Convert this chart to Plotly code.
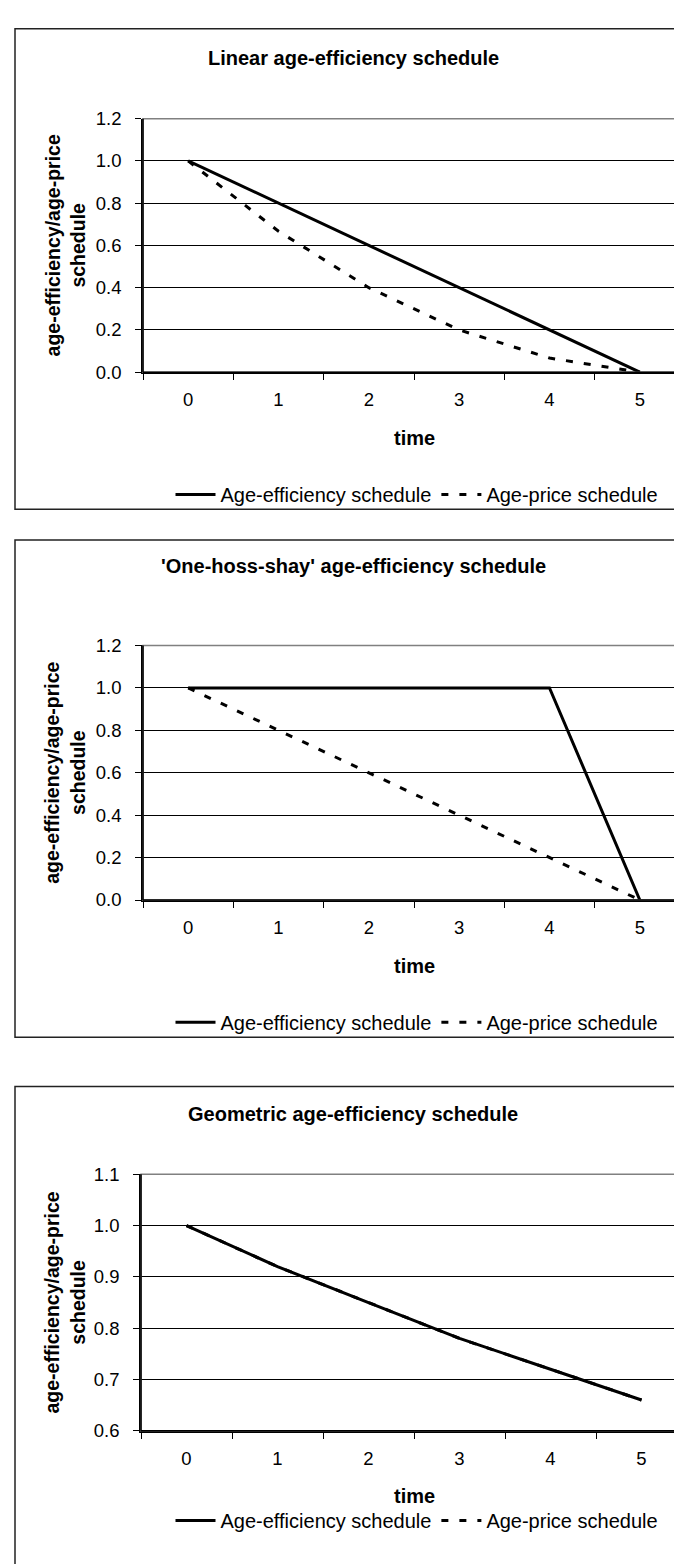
import plotly.graph_objects as go

W, H = 682, 1564

time_labels = ["0", "1", "2", "3", "4", "5"]
series_names = ["Age-efficiency schedule", "Age-price schedule"]
titles = ["Linear age-efficiency schedule",
          "'One-hoss-shay' age-efficiency schedule",
          "Geometric age-efficiency schedule"]

lin_eff = [1.0, 0.8, 0.6, 0.4, 0.2, 0.0]
lin_price = [1.0, 0.667, 0.4, 0.2, 0.067, 0.0]
ohs_eff = [1.0, 1.0, 1.0, 1.0, 1.0, 0.0]
ohs_price = [1.0, 0.8, 0.6, 0.4, 0.2, 0.0]
geo_eff = [1.0, 0.92, 0.85, 0.78, 0.72, 0.66]
geo_price = [1.0, 0.92, 0.85, 0.78, 0.72, 0.66]

y_ranges = [[0, 1.2], [0, 1.2], [0.6, 1.1]]
y_dticks = [0.2, 0.2, 0.1]
data = [(lin_eff, lin_price), (ohs_eff, ohs_price), (geo_eff, geo_price)]

# pixel layout of each panel
panels = [
    dict(frame=(7, 10, 700, 497), plot=(135, 101, 677, 358), title_y=40,
         time_y=425, legend_y=482),
    dict(frame=(7, 528, 700, 1032), plot=(135, 635, 677, 893), title_y=554,
         time_y=960, legend_y=1017),
    dict(frame=(7, 1082, 700, 1600), plot=(133, 1171, 679, 1431), title_y=1110,
         time_y=1497, legend_y=1522),
]

def px(x):
    return x / W

def py(y):
    return 1 - y / H

FONT = "Liberation Sans, Arial, sans-serif"

fig = go.Figure()
shapes = []
annotations = []
layout = {}

for i, (p, (eff, price)) in enumerate(zip(panels, data)):
    n = "" if i == 0 else str(i + 1)
    xa = "x" + n
    ya = "y" + n
    leg = "legend" + n
    fig.add_trace(go.Scatter(x=time_labels, y=eff, mode="lines", name=series_names[0],
                             line=dict(color="black", width=3), xaxis=xa, yaxis=ya,
                             legend=leg, showlegend=True))
    fig.add_trace(go.Scatter(x=time_labels, y=price, mode="lines", name=series_names[1],
                             line=dict(color="black", width=3, dash="7px,11px"),
                             xaxis=xa, yaxis=ya, legend=leg, showlegend=True))
    x0, y0, x1, y1 = p["plot"]
    layout["xaxis" + n] = dict(
        domain=[px(x0), px(x1)], anchor=ya, type="category",
        categoryorder="array", categoryarray=time_labels,
        range=[-0.5, 5.5], tickson="boundaries", ticks="outside", ticklen=6,
        tickcolor="black", tickwidth=1.2, showline=True, linecolor="black", linewidth=1.5,
        showgrid=False, zeroline=False, ticklabelstandoff=10,
        tickfont=dict(family=FONT, size=18.5, color="black"), fixedrange=True)
    layout["yaxis" + n] = dict(
        domain=[py(y1), py(y0)], anchor=xa, range=y_ranges[i], dtick=y_dticks[i],
        tick0=y_ranges[i][0], tickformat=".1f", ticks="outside", ticklen=6,
        tickcolor="black", tickwidth=1.2, showline=True, linecolor="black", linewidth=1.5,
        showgrid=True, gridcolor="black", gridwidth=1, zeroline=False,
        ticklabelstandoff=10,
        tickfont=dict(family=FONT, size=18.5, color="black"), fixedrange=True)
    # plot area border (top/right gray)
    shapes.append(dict(type="rect", xref="paper", yref="paper",
                       x0=px(x0), x1=px(x1), y0=py(y1), y1=py(y0),
                       line=dict(color="#808080", width=1.5), layer="above"))
    shapes.append(dict(type="line", xref="paper", yref="paper",
                       x0=px(x0), x1=px(x0), y0=py(y1), y1=py(y0),
                       line=dict(color="black", width=1.5), layer="above"))
    shapes.append(dict(type="line", xref="paper", yref="paper",
                       x0=px(x0), x1=px(x1), y0=py(y1), y1=py(y1),
                       line=dict(color="black", width=1.5), layer="above"))
    # outer frame
    fx0, fy0, fx1, fy1 = p["frame"]
    shapes.append(dict(type="rect", xref="paper", yref="paper",
                       x0=px(fx0), x1=px(fx1), y0=py(fy1), y1=py(fy0),
                       line=dict(color="#222222", width=1.5), layer="below"))
    annotations.append(dict(text="<b>" + titles[i] + "</b>", xref="paper", yref="paper",
                            x=px(345), y=py(p["title_y"]), xanchor="center", yanchor="middle",
                            showarrow=False, font=dict(family=FONT, size=20, color="black")))
    annotations.append(dict(text="<b>time</b>", xref="paper", yref="paper",
                            x=px((x0 + x1) / 2), y=py(p["time_y"]), xanchor="center",
                            yanchor="middle", showarrow=False,
                            font=dict(family=FONT, size=20, color="black")))
    annotations.append(dict(text="<b>age-efficiency/age-price<br>schedule</b>",
                            xref="paper", yref="paper", x=px(57), y=py((y0 + y1) / 2),
                            xanchor="center", yanchor="middle", textangle=-90,
                            showarrow=False,
                            font=dict(family=FONT, size=19.5, color="black")))
    layout[leg] = dict(orientation="h", x=px(409), y=py(p["legend_y"]),
                       xanchor="center", yanchor="middle", bgcolor="rgba(0,0,0,0)",
                       font=dict(family=FONT, size=20, color="black"),
                       itemwidth=40, tracegroupgap=0)

fig.update_layout(
    width=W, height=H, margin=dict(l=0, r=0, t=0, b=0),
    paper_bgcolor="white", plot_bgcolor="white",
    shapes=shapes, annotations=annotations, showlegend=True,
    **layout)

fig.write_html("out.html")
